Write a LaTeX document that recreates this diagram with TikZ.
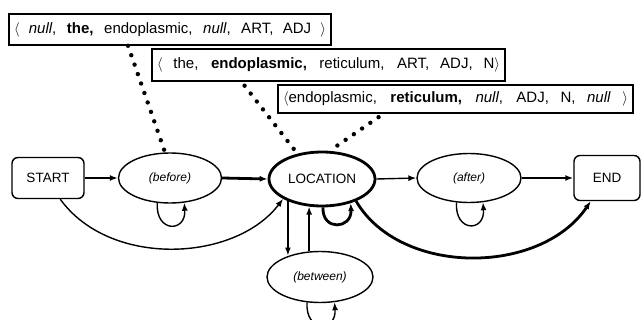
\documentclass[tikz,border=0pt]{standalone}
\usepackage{fontspec}
\setmainfont{Liberation Sans}
\usetikzlibrary{arrows.meta,shapes.geometric}
\begin{document}
\begin{tikzpicture}[x=1pt,y=-1pt,
  tip/.style={-{Latex[length=8pt,width=6pt]}},
  thinarr/.style={tip,line width=1.4pt},
  thickarr/.style={tip,line width=2.8pt},
  term/.style={draw,line width=1.4pt,rounded corners=6pt,inner sep=0pt,
    font=\fontsize{13.5}{15}\selectfont},
  state/.style={draw,ellipse,line width=1.4pt,inner sep=0pt,
    font=\fontsize{12}{14}\selectfont\itshape},
  tuple/.style={draw,line width=1.5pt,inner sep=0pt,font=\fontsize{15}{18}\selectfont},
  dots/.style={line width=4.4pt,line cap=round,dash pattern=on 0pt off 10pt}]
\useasboundingbox (0,0) rectangle (644,320);

% tuple boxes
\node[tuple,minimum width=322pt,minimum height=31pt] (b1) at (170,29.5)
  {\makebox[312pt][s]{$\big\langle$ \textit{null}, \textbf{the,} endoplasmic, \textit{null}, ART, ADJ $\big\rangle$}};
\node[tuple,minimum width=353pt,minimum height=32pt] (b2) at (328.5,65)
  {\makebox[343pt][s]{$\big\langle$ the, \textbf{endoplasmic,} reticulum, ART, ADJ, N$\big\rangle$}};
\node[tuple,minimum width=355pt,minimum height=28pt] (b3) at (455.5,99)
  {\makebox[345pt][s]{$\big\langle$endoplasmic, \textbf{reticulum,} \textit{null}, ADJ, N, \textit{null} $\big\rangle$}};

% states
\node[term,minimum width=72pt,minimum height=41pt] (start) at (48,178) {START};
\node[state,minimum width=103pt,minimum height=50pt] (before) at (170,178) {(before)};
\node[state,line width=2.8pt,minimum width=106pt,minimum height=54pt,font=\fontsize{13.5}{15}\selectfont] (loc) at (322,179) {LOCATION};
\node[state,minimum width=104pt,minimum height=49pt] (after) at (469,178) {(after)};
\node[term,minimum width=66pt,minimum height=45pt] (end) at (607,178) {END};
\node[state,minimum width=106pt,minimum height=51pt] (between) at (320,277) {(between)};

% dotted links
\draw[dots] ([xshift=-42pt]b1.south) -- ([xshift=-5pt]before.north);
\draw[dots,shorten <=5pt] ([xshift=-87pt]b2.south) -- ([xshift=-27pt]loc.north);
\draw[dots,shorten <=6pt] ([xshift=-72pt]b3.south) -- ([xshift=8pt]loc.north);

% main transitions
\draw[thickarr] (start.east) -- (before.west);
\draw[thickarr] (before.east) -- (loc.west);
\draw[thinarr] (loc.east) -- (after.west);
\draw[thinarr,line width=1.8pt] (after.east) -- (end.west);

% curved transitions
\draw[thinarr] (start.-60) .. controls (110,268) and (235,262) .. (loc.207);
\draw[thickarr] (loc.-33) .. controls (400,276) and (540,276) .. (end.235);

% between links
\draw[thinarr] (loc.213) -- (loc.213 |- between.145);
\draw[thinarr] (between.112 -| loc.245) -- (loc.245);

% self loops
\draw[thinarr] (before.243) .. controls +(-2,30) and +(2,30) .. (before.300);
\draw[thickarr] (loc.-88) .. controls +(-1,24) and +(1,26) .. (loc.-40);
\draw[thinarr] (after.243) .. controls +(-2,30) and +(2,30) .. (after.300);
\draw[thinarr] (between.243) .. controls +(-2,30) and +(2,30) .. (between.300);
\end{tikzpicture}
\end{document}
